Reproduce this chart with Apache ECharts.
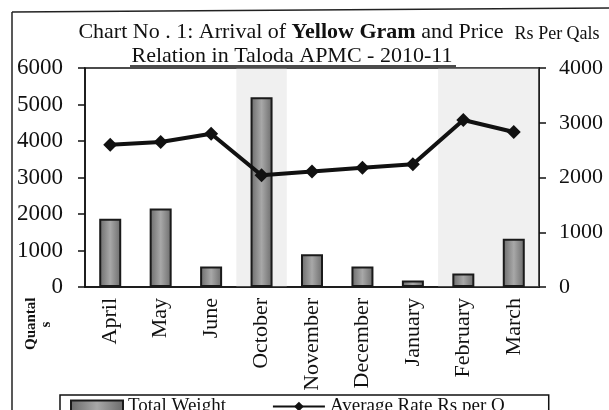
<!DOCTYPE html>
<html><head><meta charset="utf-8">
<script src="https://cdn.jsdelivr.net/npm/echarts@6/dist/echarts.min.js"></script>
<style>html,body{margin:0;padding:0;background:#fff}#c{width:609px;height:410px}</style>
</head><body><div id="c"></div>
<script>
const categories = ['April','May','June','October','November','December','January','February','March'];
const totalWeight = [1870, 2150, 560, 5200, 900, 560, 180, 370, 1320];
const avgRate = [2600, 2650, 2800, 2040, 2110, 2180, 2240, 3050, 2830];
const leftTicks = [0, 6000, 1000];
const rightTicks = [0, 4000, 1000];
const F = 'Liberation Serif';

const chart = echarts.init(document.getElementById('c'));
chart.setOption({
  backgroundColor: '#fff',
  animation: false,
  grid: {left: 85, right: 70, top: 68, bottom: 123, show: true, borderColor: '#111', borderWidth: 1.5, backgroundColor: 'transparent'},
  legend: {
    bottom: -14, left: 60,
    data: [{name: 'Total Weight', icon: 'rect'}, {name: 'Average Rate Rs per Q'}],
    itemWidth: 52, itemHeight: 12, itemGap: 46,
    borderColor: '#111', borderWidth: 1.5, padding: [2, 44, 8, 10],
    textStyle: {fontFamily: F, fontSize: 19, color: '#111'}
  },
  xAxis: {
    type: 'category', data: categories,
    axisLine: {lineStyle: {color: '#111', width: 1.5}},
    axisTick: {length: 6, lineStyle: {color: '#111', width: 1.5}},
    axisLabel: {rotate: 90, margin: 11, fontFamily: F, fontSize: 22, color: '#111', interval: 0}
  },
  yAxis: [
    {type: 'value', min: leftTicks[0], max: leftTicks[1], interval: leftTicks[2],
     axisLine: {show: true, lineStyle: {color: '#111', width: 1.5}},
     axisTick: {show: true, length: 7, lineStyle: {color: '#111', width: 1.5}},
     splitLine: {show: false},
     axisLabel: {fontFamily: F, fontSize: 23, color: '#111', margin: 22, formatter: v => String(v)}},
    {type: 'value', min: rightTicks[0], max: rightTicks[1], interval: rightTicks[2], position: 'right',
     axisLine: {show: true, lineStyle: {color: '#111', width: 1.5}},
     axisTick: {show: true, length: 7, lineStyle: {color: '#111', width: 1.5}},
     splitLine: {show: false},
     axisLabel: {fontFamily: F, fontSize: 22, color: '#111', margin: 20, formatter: v => String(v)}}
  ],
  series: [
    {name: 'Total Weight', type: 'bar', data: totalWeight, barWidth: 22, yAxisIndex: 0,
     itemStyle: {
       color: new echarts.graphic.LinearGradient(0, 0, 1, 0, [
         {offset: 0, color: '#6a6a6a'}, {offset: 0.5, color: '#a8a8a8'}, {offset: 1, color: '#6a6a6a'}]),
       borderColor: '#1a1a1a', borderWidth: 2},
     markArea: {silent: true, itemStyle: {color: 'rgba(200,200,200,0.28)'},
       data: [[{xAxis: 'October'}, {xAxis: 'October'}], [{xAxis: 'February'}, {xAxis: 'March'}]]}
    },
    {name: 'Average Rate Rs per Q', type: 'line', data: avgRate, yAxisIndex: 1,
     lineStyle: {color: '#111', width: 4}, itemStyle: {color: '#111'},
     symbol: 'diamond', symbolSize: 14, z: 5}
  ],
  graphic: [
    {type: 'line', shape: {x1: 12, y1: 12, x2: 609, y2: 8}, style: {stroke: '#222', lineWidth: 1.5}},
    {type: 'line', shape: {x1: 12, y1: 12, x2: 12, y2: 410}, style: {stroke: '#222', lineWidth: 1.5}},
    {type: 'text', x: 339, y: 31,
     style: {text: '{a|Chart No . 1: Arrival of }{b|Yellow Gram}{a| and Price  }{c|Rs Per Qals}',
       align: 'center', verticalAlign: 'middle',
       rich: {
         a: {fontSize: 22, fontFamily: F, fill: '#111', verticalAlign: 'bottom', lineHeight: 24},
         b: {fontSize: 22, fontFamily: F, fontWeight: 'bold', fill: '#111', verticalAlign: 'bottom', lineHeight: 24},
         c: {fontSize: 18, fontFamily: F, fill: '#111', verticalAlign: 'bottom', lineHeight: 24}
       }}},
    {type: 'text', x: 292, y: 56,
     style: {text: 'Relation in Taloda APMC - 2010-11', fontSize: 22, fontFamily: F, fill: '#111',
       align: 'center', verticalAlign: 'middle'}},
    {type: 'line', shape: {x1: 130, y1: 66, x2: 456, y2: 66}, style: {stroke: '#111', lineWidth: 1.5}},
    {type: 'text', x: 24, y: 350, rotation: Math.PI / 2,
     style: {text: 'Quantal\n      s', fontFamily: F, fontSize: 15, fontWeight: 'bold', fill: '#111', lineHeight: 15}}
  ]
});
</script></body></html>
